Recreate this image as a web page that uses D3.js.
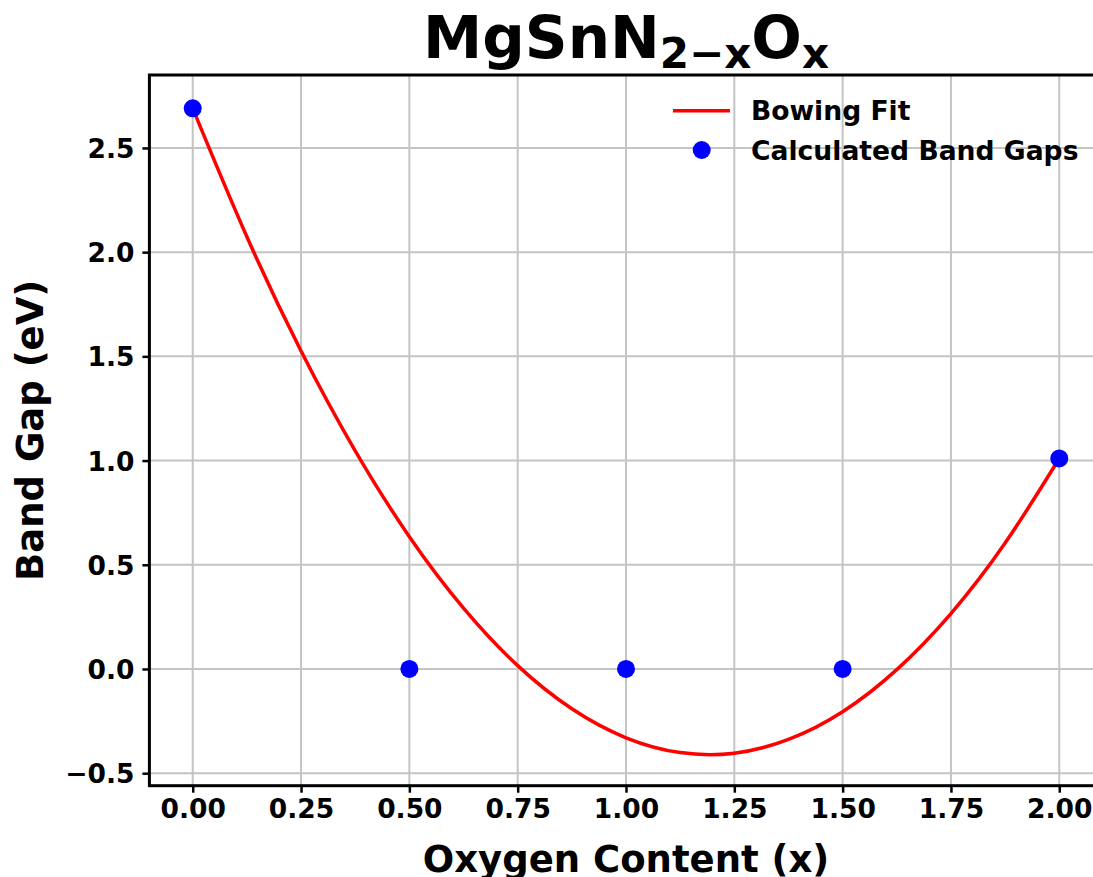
<!DOCTYPE html>
<html><head><meta charset="utf-8">
<script src="https://cdn.jsdelivr.net/npm/d3@7"></script>
<style>body{margin:0;background:#fff}svg{display:block;font-family:"DejaVu Sans",sans-serif;font-weight:bold}</style>
</head><body>
<svg id="c" width="1093" height="877"></svg>
<script>
const pointX = [0, 0.5, 1.0, 1.5, 2.0];
const pointY = [2.69, 0.0, 0.0, 0.0, 1.01];
const fitX = [0, 0.125, 0.25, 0.375, 0.5, 0.625, 0.75, 0.875, 1.0, 1.125, 1.25, 1.375, 1.5, 1.625, 1.75, 1.875, 2.0];
const fitY = [2.69, 2.074, 1.526, 1.047, 0.635, 0.292, 0.016, -0.191, -0.33, -0.401, -0.404, -0.338, -0.205, -0.003, 0.266, 0.604, 1.01];
const xTicks = [0, 0.25, 0.5, 0.75, 1.0, 1.25, 1.5, 1.75, 2.0];
const yTicks = [-0.5, 0, 0.5, 1.0, 1.5, 2.0, 2.5];
const legendLabels = ["Bowing Fit", "Calculated Band Gaps"];

const svg = d3.select("#c");
const L = 149.4, R = 1102.6, T = 75, B = 785.7;
const x = d3.scaleLinear().domain([-0.1, 2.1]).range([L, R]);
const y = d3.scaleLinear().domain([-0.56, 2.85]).range([B, T]);

svg.append("defs").append("clipPath").attr("id","clip").append("rect")
  .attr("x", L).attr("y", T).attr("width", R-L).attr("height", B-T);

// grid
const g = svg.append("g");
g.selectAll(".gx").data(xTicks).enter().append("line")
  .attr("x1", d=>x(d)).attr("x2", d=>x(d)).attr("y1", T).attr("y2", B)
  .attr("stroke", "#c4c4c4").attr("stroke-width", 2);
g.selectAll(".gy").data(yTicks).enter().append("line")
  .attr("x1", L).attr("x2", R).attr("y1", d=>y(d)).attr("y2", d=>y(d))
  .attr("stroke", "#c4c4c4").attr("stroke-width", 2);

// axes
const fmtX = d3.format(".2f"), fmtY = d=>d3.format(".1f")(d).replace("-", "\u2212");
const ax = svg.append("g").attr("transform", `translate(0,${B})`)
  .call(d3.axisBottom(x).tickValues(xTicks).tickFormat(fmtX).tickSize(7).tickPadding(6));
const ay = svg.append("g").attr("transform", `translate(${L},0)`)
  .call(d3.axisLeft(y).tickValues(yTicks).tickFormat(fmtY).tickSize(7).tickPadding(8));
[ax, ay].forEach(a => {
  a.select(".domain").remove();
  a.selectAll(".tick line").attr("stroke", "#000").attr("stroke-width", 2.5);
  a.selectAll(".tick text").attr("fill", "#000").style("font-size", "26.5px")
   .style("font-family", "'DejaVu Sans'").style("font-weight", "bold");
});
ay.selectAll(".tick text").attr("dy", "0.36em");
ax.selectAll(".tick text").attr("dy", "0.72em");

// fit line
const line = d3.line().x((d,i)=>x(fitX[i])).y(d=>y(d)).curve(d3.curveNatural);
svg.append("path").datum(fitY).attr("d", line).attr("fill", "none")
  .attr("stroke", "#ff0000").attr("stroke-width", 3.5).attr("clip-path", "url(#clip)");

// points
svg.selectAll(".pt").data(pointX).enter().append("circle")
  .attr("cx", d=>x(d)).attr("cy", (d,i)=>y(pointY[i])).attr("r", 9).attr("fill", "#0000ff");

// frame
svg.append("rect").attr("x", L).attr("y", T).attr("width", R-L).attr("height", B-T)
  .attr("fill", "none").attr("stroke", "#000").attr("stroke-width", 3);

// legend
const lg = svg.append("g");
lg.append("line").attr("x1", 673).attr("x2", 730).attr("y1", 110.7).attr("y2", 110.7)
  .attr("stroke", "#ff0000").attr("stroke-width", 3.5);
lg.append("circle").attr("cx", 701.7).attr("cy", 150).attr("r", 9).attr("fill", "#0000ff");
lg.selectAll("text").data(legendLabels).enter().append("text")
  .attr("x", 751).attr("y", (d,i)=>110.7 + i*39.5).attr("dy", "0.36em")
  .style("font-size", "26.6px").text(d=>d);

// title
const t = svg.append("text").attr("x", (L+R)/2).attr("y", 58).attr("text-anchor", "middle")
  .style("font-size", "59.5px");
t.append("tspan").text("MgSnN");
t.append("tspan").text("2\u2212x").style("font-size", "42px").attr("dy", 10);
t.append("tspan").text("O").attr("dy", -10);
t.append("tspan").text("x").style("font-size", "42px").attr("dy", 10);

// axis labels
svg.append("text").attr("x", (L+R)/2).attr("y", 872).attr("text-anchor", "middle")
  .style("font-size", "37px").text("Oxygen Content (x)");
svg.append("text").attr("transform", `translate(43,${(T+B)/2}) rotate(-90)`).attr("text-anchor", "middle")
  .style("font-size", "37px").text("Band Gap (eV)");
</script>
</body></html>
